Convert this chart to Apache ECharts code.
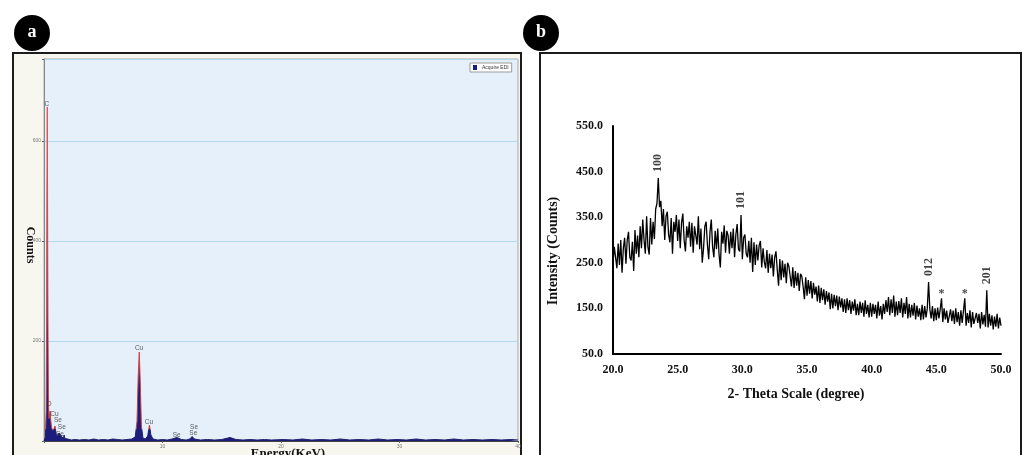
<!DOCTYPE html>
<html>
<head>
<meta charset="utf-8">
<script src="https://cdn.jsdelivr.net/npm/echarts@6/dist/echarts.min.js"></script>
<style>
  html, body { margin: 0; padding: 0; background: #fff; }
  #chart { width: 1027px; height: 455px; }
</style>
</head>
<body>
<div id="chart"></div>
<script>
// ---------- (a) EDX spectrum ----------
const edsEnergy = [0.00, 0.06, 0.12, 0.18, 0.22, 0.25, 0.277, 0.30, 0.33, 0.37, 0.42, 0.47, 0.52, 0.57, 0.62, 0.68, 0.74, 0.80, 0.86, 0.93,
  1.00, 1.06, 1.12, 1.20, 1.28, 1.38, 1.46, 1.54, 1.62, 1.70, 1.76, 1.85, 2.0, 2.3, 2.6, 3.0, 3.4, 3.8, 4.2, 4.6,
  5.0, 5.4, 5.8, 6.2, 6.6, 7.0, 7.4, 7.7, 7.85, 7.95, 8.04, 8.12, 8.22, 8.35, 8.55, 8.75, 8.90, 9.02, 9.2, 9.6,
  10.0, 10.4, 10.8, 11.22, 11.6, 12.0, 12.3, 12.5, 12.7, 13.2, 13.8, 14.4, 15.0, 15.7, 16.2, 16.8, 17.4, 18.0, 18.6, 19.2,
  20.2, 21.0, 21.8, 22.6, 23.4, 24.2, 25.0, 25.8, 26.6, 27.4, 28.2, 29.0, 29.8, 30.6, 31.4, 32.2, 33.0, 33.8, 34.6, 35.4,
  36.2, 37.0, 37.8, 38.6, 39.4, 40.0];
const edsCounts = [0, 2, 8, 60, 250, 520, 668, 500, 250, 90, 45, 48, 60, 42, 30, 24, 18, 16, 22, 30,
  18, 10, 8, 10, 16, 18, 10, 6, 5, 12, 5, 3, 4, 2, 3, 2, 3, 2, 4, 2,
  3, 2, 4, 3, 2, 3, 4, 8, 40, 130, 178, 120, 30, 6, 4, 10, 32, 12, 4, 2,
  3, 2, 4, 7, 3, 2, 4, 9, 4, 2, 3, 2, 3, 7, 3, 2, 3, 2, 3, 2,
  3, 2, 4, 2, 3, 2, 4, 2, 3, 2, 4, 2, 3, 2, 4, 2, 3, 2, 4, 2,
  3, 2, 3, 2, 3, 2];
const edsLabelText = ['C', 'O', 'Cu', 'Se', 'Se', 'Se', 'Cu', 'Cu', 'Se', 'Se', 'Se'];
const edsLabelEnergy = [0.25, 0.42, 0.88, 1.18, 1.50, 1.35, 8.02, 8.86, 11.2, 12.66, 12.6];
const edsLabelCounts = [674, 74, 54, 42, 28, 14, 186, 38, 12, 28, 16];
const edsYTicks = [200, 400, 600];
const edsXTicks = [10, 20, 30, 40];

// ---------- (b) XRD pattern, 2θ = 20.0 … 50.0 in 0.1° steps ----------
const xrdStart = 20.0;
const xrdStep = 0.1;
const xrdIntensity = [
  250, 285, 262, 238, 292, 245, 300, 228, 282, 305,
  248, 300, 318, 262, 255, 296, 232, 322, 270, 310,
  262, 330, 282, 345, 300, 270, 352, 285, 268, 348,
  290, 340, 302, 368, 380, 436, 372, 386, 330, 368,
  300, 352, 362, 312, 295, 348, 270, 340, 318, 355,
  298, 345, 282, 338, 358, 300, 275, 330, 305, 340,
  285, 338, 272, 330, 310, 290, 352, 280, 325, 250,
  282, 330, 340, 290, 258, 318, 345, 285, 262, 320,
  280, 325, 268, 240, 318, 292, 332, 272, 320, 310,
  270, 318, 282, 325, 262, 312, 335, 280, 275, 355,
  258, 305, 312, 270, 262, 298, 250, 305, 230, 295,
  245, 290, 255, 288, 298, 240, 282, 252, 238, 278,
  228, 270, 238, 268, 220, 262, 275, 235, 200, 258,
  212, 255, 218, 248, 205, 250, 242, 220, 198, 240,
  195, 232, 200, 228, 188, 226, 220, 198, 170, 218,
  178, 212, 182, 210, 172, 206, 180, 198, 165, 200,
  162, 195, 168, 192, 158, 188, 165, 185, 148, 182,
  150, 180, 155, 178, 146, 176, 152, 172, 142, 170,
  140, 172, 146, 168, 138, 165, 145, 170, 135, 160,
  135, 165, 140, 162, 132, 168, 138, 158, 130, 162,
  132, 160, 138, 158, 128, 165, 134, 155, 126, 160,
  138, 168, 142, 175, 135, 170, 140, 178, 132, 165,
  135, 166, 140, 172, 130, 162, 138, 175, 128, 160,
  130, 158, 134, 162, 126, 156, 132, 150, 124, 158,
  126, 155, 130, 150, 208, 148, 128, 155, 122, 150,
  124, 152, 128, 148, 172, 120, 150, 126, 145, 118,
  120, 148, 122, 145, 116, 150, 120, 142, 112, 146,
  118, 145, 172, 112, 140, 118, 146, 108, 142, 116,
  112, 140, 118, 138, 106, 142, 115, 136, 110, 190,
  108, 138, 112, 135, 104, 132, 110, 138, 106, 130,
  112
];
const hklNames = ['100', '101', '012', '201'];
const hklAngles = [23.5, 29.9, 44.4, 48.9];
const starAngles = [45.4, 47.2];

const serif = '"Liberation Serif", "Times New Roman", serif';
const sans = '"Liberation Sans", Arial, sans-serif';

const edsData = edsEnergy.map((e, i) => [e, edsCounts[i]]);
const edsLabels = edsLabelText.map((t, i) => [edsLabelEnergy[i], edsLabelCounts[i], t]);
const xrdData = xrdIntensity.map((v, i) => [+(xrdStart + i * xrdStep).toFixed(1), v]);
const peakValue = a => xrdIntensity[Math.round((a - xrdStart) / xrdStep)];
const hklData = hklAngles.map((a, i) => [a, peakValue(a), hklNames[i]]);
const starData = starAngles.map(a => [a, peakValue(a), '*']);

// spectrum outline: red on the peaks, dark navy along the noisy baseline
const edsOutline = {
  type: 'linear', x: 0, y: 0, x2: 0, y2: 441, global: true,
  colorStops: [
    { offset: 0, color: '#e05a5a' },
    { offset: 0.972, color: '#c84040' },
    { offset: 0.975, color: '#20206a' },
    { offset: 1, color: '#20206a' }
  ]
};

const chart = echarts.init(document.getElementById('chart'), null, { renderer: 'canvas' });

chart.setOption({
  animation: false,
  backgroundColor: '#ffffff',
  graphic: [
    { type: 'rect', z: -10, shape: { x: 13, y: 53, width: 508, height: 420 },
      style: { fill: '#f7f7ef', stroke: '#1c1c1c', lineWidth: 2 } },
    { type: 'rect', z: -10, shape: { x: 540, y: 53, width: 481, height: 420 },
      style: { fill: '#ffffff', stroke: '#1c1c1c', lineWidth: 2 } },
    { type: 'circle', z: 50, shape: { cx: 32, cy: 33, r: 18 }, style: { fill: '#000' } },
    { type: 'text', z: 51, x: 32, y: 32,
      style: { text: 'a', fill: '#fff', fontSize: 18, fontWeight: 'bold', fontFamily: serif,
               align: 'center', verticalAlign: 'middle' } },
    { type: 'circle', z: 50, shape: { cx: 541, cy: 33, r: 18 }, style: { fill: '#000' } },
    { type: 'text', z: 51, x: 541, y: 32,
      style: { text: 'b', fill: '#fff', fontSize: 18, fontWeight: 'bold', fontFamily: serif,
               align: 'center', verticalAlign: 'middle' } },
    { type: 'text', z: 20, x: 30, y: 245, rotation: -Math.PI / 2,
      style: { text: 'Counts', fill: '#111', fontSize: 12, fontWeight: 'bold', fontFamily: serif,
               align: 'center', verticalAlign: 'middle' } },
    { type: 'text', z: 20, x: 288, y: 447,
      style: { text: 'Energy(KeV)', fill: '#111', fontSize: 13, fontWeight: 'bold', fontFamily: serif,
               align: 'center', verticalAlign: 'top' } },
    { type: 'text', z: 20, x: 553, y: 251, rotation: Math.PI / 2,
      style: { text: 'Intensity (Counts)', fill: '#111', fontSize: 14, fontWeight: 'bold', fontFamily: serif,
               align: 'center', verticalAlign: 'middle' } },
    { type: 'text', z: 20, x: 796, y: 394,
      style: { text: '2- Theta Scale (degree)', fill: '#111', fontSize: 14, fontWeight: 'bold', fontFamily: serif,
               align: 'center', verticalAlign: 'middle' } }
  ],
  legend: {
    left: 470, top: 63,
    data: [{ name: 'Acquire EDI', icon: 'rect', itemStyle: { color: '#1a1a80' } }],
    itemWidth: 4, itemHeight: 5, itemGap: 2,
    padding: [2, 3], backgroundColor: '#ffffff', borderColor: '#9a9a9a', borderWidth: 1,
    textStyle: { fontSize: 5, color: '#333', fontFamily: sans }
  },
  grid: [
    { left: 44, top: 59, width: 474, height: 382, show: true,
      backgroundColor: '#e5f0fa', borderColor: '#a8a8a8', borderWidth: 1 },
    { left: 613, top: 126, width: 388, height: 228 }
  ],
  xAxis: [
    { gridIndex: 0, type: 'value', min: 0, max: 40, interval: 10,
      axisLine: { lineStyle: { color: '#444', width: 1 } },
      axisTick: { show: true, length: 2, lineStyle: { color: '#666' } },
      axisLabel: { fontSize: 5, color: '#777', margin: 3, fontFamily: sans,
                   formatter: v => (edsXTicks.includes(v) ? String(v) : '') },
      splitLine: { show: false } },
    { gridIndex: 1, type: 'value', min: 20, max: 50, interval: 5,
      axisLine: { lineStyle: { color: '#000', width: 2 } },
      axisTick: { show: false },
      axisLabel: { fontSize: 12, fontWeight: 'bold', color: '#111', fontFamily: serif, margin: 10,
                   formatter: v => v.toFixed(1) },
      splitLine: { show: false } }
  ],
  yAxis: [
    { gridIndex: 0, type: 'value', min: 0, max: 764, interval: 200,
      axisLine: { show: true, lineStyle: { color: '#888', width: 1 } },
      axisTick: { show: true, length: 2, lineStyle: { color: '#666' } },
      axisLabel: { fontSize: 5, color: '#777', margin: 3, fontFamily: sans,
                   formatter: v => (edsYTicks.includes(v) ? String(v) : '') },
      splitLine: { show: true, lineStyle: { color: '#b4d8ee', width: 1 } } },
    { gridIndex: 1, type: 'value', min: 50, max: 550, interval: 100,
      axisLine: { show: true, lineStyle: { color: '#000', width: 2 } },
      axisTick: { show: false },
      axisLabel: { fontSize: 12, fontWeight: 'bold', color: '#111', fontFamily: serif, margin: 10,
                   formatter: v => v.toFixed(1) },
      splitLine: { show: false } }
  ],
  series: [
    { name: 'Acquire EDI', type: 'line', xAxisIndex: 0, yAxisIndex: 0,
      data: edsData, showSymbol: false, z: 3,
      itemStyle: { color: '#1a1a80' },
      lineStyle: { width: 1, color: edsOutline },
      areaStyle: { color: '#1c1c7c', opacity: 1 } },
    { type: 'scatter', xAxisIndex: 0, yAxisIndex: 0, data: edsLabels,
      symbolSize: 0, silent: true, z: 5,
      label: { show: true, position: 'inside', formatter: p => p.value[2],
               fontSize: 6.5, color: '#333', fontFamily: sans } },
    { type: 'line', xAxisIndex: 1, yAxisIndex: 1, data: xrdData, showSymbol: false,
      lineStyle: { color: '#000', width: 1.3 }, z: 3 },
    { type: 'scatter', xAxisIndex: 1, yAxisIndex: 1, data: hklData,
      symbolSize: 0, silent: true, z: 5,
      label: { show: true, position: 'inside', rotate: 90, offset: [15, 0],
               formatter: p => p.value[2], fontSize: 12, fontWeight: 'bold',
               color: '#111', fontFamily: serif } },
    { type: 'scatter', xAxisIndex: 1, yAxisIndex: 1, data: starData,
      symbolSize: 0, silent: true, z: 5,
      label: { show: true, position: 'inside', offset: [0, -4],
               formatter: p => p.value[2], fontSize: 12, fontWeight: 'bold',
               color: '#111', fontFamily: serif } }
  ]
});
</script>
</body>
</html>
